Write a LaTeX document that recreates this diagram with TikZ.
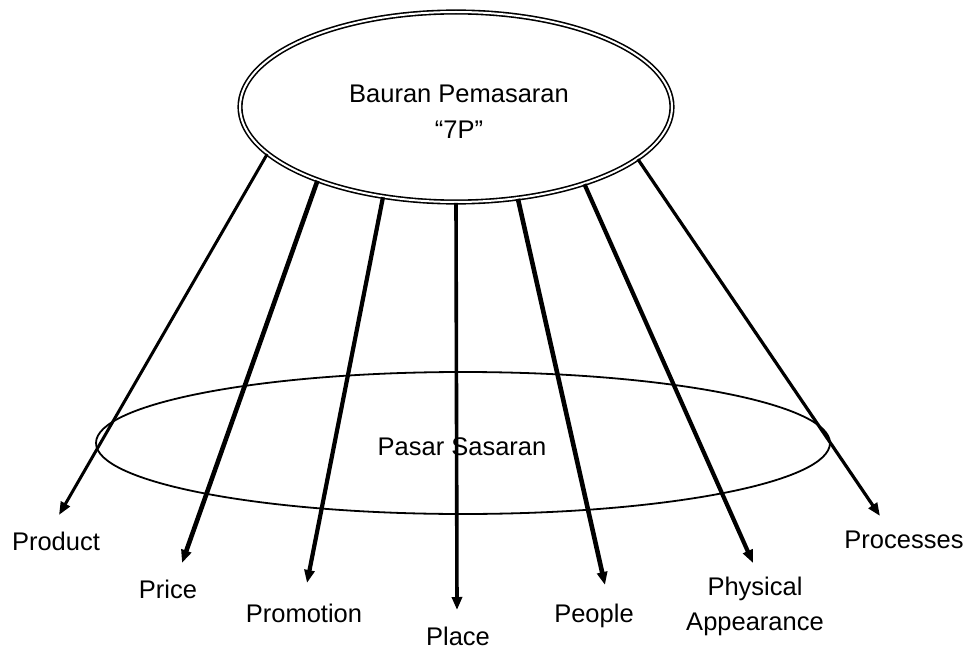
\documentclass[tikz,border=0pt]{standalone}
\usepackage{fontspec}
\setmainfont{Liberation Sans}
\usetikzlibrary{arrows.meta,shapes.geometric}
\begin{document}
\begin{tikzpicture}[x=1pt,y=-1pt,
  lbl/.style={font=\fontsize{25.5}{30}\selectfont, inner sep=0pt},
  ray/.style={-{Triangle[length=13pt,width=10pt]}, line cap=butt},
]
\useasboundingbox (0,0) rectangle (974,650);

% target market
\node[ellipse, draw, line width=1.8pt, minimum width=734pt, minimum height=142pt,
      inner sep=0pt] (market) at (463,443) {};
\node[lbl, anchor=base] (lMarket) at (462,455) {Pasar Sasaran};

% marketing mix
\node[ellipse, draw, double, line width=1.6pt, double distance=2pt,
      minimum width=432pt, minimum height=190pt, inner sep=0pt] (mix) at (456,107) {};
\node[lbl, align=center, font=\fontsize{25.5}{36}\selectfont] (lMix) at (459,112)
  {Bauran Pemasaran\\“7P”};

% arrow tips
\coordinate (tProduct)   at (59,515);
\coordinate (tPrice)     at (182,563);
\coordinate (tPromotion) at (307,583);
\coordinate (tPlace)     at (457,610);
\coordinate (tPeople)    at (605,585);
\coordinate (tPhysical)  at (753,563);
\coordinate (tProcesses) at (880,516);

% the seven Ps
\draw[ray, line width=3pt]   (mix.194.7) -- (tProduct);
\draw[ray, line width=4.6pt] (mix.208.7) -- (tPrice);
\draw[ray, line width=4.2pt] (mix.231.5) -- (tPromotion);
\draw[ray, line width=3.6pt] (mix.270)   -- (tPlace);
\draw[ray, line width=4.6pt] (mix.304.8) -- (tPeople);
\draw[ray, line width=4.2pt] (mix.329.7) -- (tPhysical);
\draw[ray, line width=3.2pt] (mix.344.7) -- (tProcesses);

% labels
\node[lbl, anchor=base] (lProduct)   at (56,550)  {Product};
\node[lbl, anchor=base] (lPrice)     at (168,598) {Price};
\node[lbl, anchor=base] (lPromotion) at (304,622) {Promotion};
\node[lbl, anchor=base] (lPlace)     at (458,645) {Place};
\node[lbl, anchor=base] (lPeople)    at (594,622) {People};
\node[lbl, align=center, font=\fontsize{25.5}{35}\selectfont] (lPhysical) at (755,606)
  {Physical\\Appearance};
\node[lbl, anchor=base] (lProcesses) at (904,548) {Processes};
\end{tikzpicture}
\end{document}
